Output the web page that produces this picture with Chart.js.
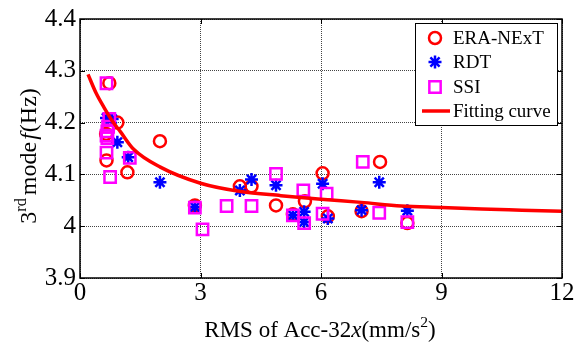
<!DOCTYPE html>
<html>
<head>
<meta charset="utf-8">
<script src="https://cdn.jsdelivr.net/npm/chart.js@4/dist/chart.umd.min.js"></script>
<style>
  html, body { margin: 0; padding: 0; background: #fff; }
  canvas { display: block; }
</style>
</head>
<body>
<canvas id="chart" width="578" height="344"></canvas>
<script>
// Values
const eraX = [0.73, 0.93, 0.65, 0.66, 1.18, 1.99, 2.86, 3.98, 4.27, 4.88, 5.30, 5.60, 6.04, 6.17, 7.01, 7.47, 8.15];
const eraY = [4.276, 4.200, 4.178, 4.127, 4.104, 4.164, 4.040, 4.077, 4.077, 4.040, 4.023, 4.048, 4.102, 4.019, 4.029, 4.124, 4.006];

const rdtX = [0.66, 0.80, 0.93, 1.20, 1.99, 2.86, 3.98, 4.27, 4.88, 5.30, 5.58, 5.58, 6.04, 6.17, 7.01, 7.45, 8.15];
const rdtY = [4.209, 4.207, 4.162, 4.133, 4.085, 4.037, 4.069, 4.090, 4.079, 4.021, 4.028, 4.008, 4.082, 4.015, 4.031, 4.085, 4.030];

const ssiX = [0.66, 0.73, 0.70, 0.68, 0.66, 0.68, 0.66, 0.75, 1.24, 2.86, 3.05, 3.65, 4.27, 4.88, 5.30, 5.56, 5.58, 6.04, 6.14, 7.04, 7.45, 8.15];
const ssiY = [4.276, 4.207, 4.192, 4.183, 4.175, 4.170, 4.142, 4.095, 4.132, 4.036, 3.994, 4.039, 4.039, 4.101, 4.021, 4.069, 4.006, 4.024, 4.063, 4.124, 4.026, 4.008];

const fitX = [0.2, 0.4, 0.6, 0.83, 1.0, 1.33, 2, 3, 4, 5, 6, 7, 8, 9, 10, 11, 12];
const fitY = [4.293, 4.257, 4.229, 4.200, 4.183, 4.149, 4.114, 4.083, 4.067, 4.059, 4.052, 4.046, 4.039, 4.036, 4.033, 4.031, 4.029];

const xTicks = [0, 3, 6, 9, 12];
const xTickLabels = ['0', '3', '6', '9', '12'];
const yTicks = [3.9, 4.0, 4.1, 4.2, 4.3, 4.4];
const yTickLabels = ['3.9', '4', '4.1', '4.2', '4.3', '4.4'];

const SERIF = 'Liberation Serif';
const RED = '#ff0000', BLUE = '#0000ff', MAGENTA = '#ff00ff';

Chart.defaults.font.family = SERIF;
Chart.defaults.color = '#000';

function toPoints(xs, ys) {
  return xs.map((x, i) => ({ x: x, y: ys[i] }));
}

// draw a run of text pieces (normal / italic / superscript)
function richWidth(ctx, parts, size) {
  let w = 0;
  parts.forEach(p => {
    const s = p.sup ? size * 0.68 : size;
    ctx.font = (p.it ? 'italic ' : '') + s + 'px ' + SERIF;
    w += ctx.measureText(p.t).width + (p.gap || 0);
  });
  return w;
}

function drawRich(ctx, parts, x, y, size) {
  parts.forEach(p => {
    const s = p.sup ? size * 0.68 : size;
    ctx.font = (p.it ? 'italic ' : '') + s + 'px ' + SERIF;
    ctx.fillText(p.t, x, p.sup ? y - size * 0.42 : y);
    x += ctx.measureText(p.t).width + (p.gap || 0);
  });
}

function marker(ctx, style, radius, x, y) {
  const opts = { pointStyle: style, rotation: 0, radius: radius, borderWidth: ctx.lineWidth };
  if (Chart.helpers && Chart.helpers.drawPoint) {
    ctx.fillStyle = 'rgba(0,0,0,0)';
    Chart.helpers.drawPoint(ctx, opts, x, y);
  }
}

const overlay = {
  id: 'overlay',
  afterDraw(chart) {
    const ctx = chart.ctx;
    const a = chart.chartArea;
    const sx = chart.scales.x, sy = chart.scales.y;
    ctx.save();

    // inward tick marks on all four sides
    ctx.strokeStyle = '#000';
    ctx.lineWidth = 1;
    ctx.beginPath();
    xTicks.forEach(v => {
      const px = Math.round(sx.getPixelForValue(v)) + 0.5;
      ctx.moveTo(px, a.bottom); ctx.lineTo(px, a.bottom - 5);
      ctx.moveTo(px, a.top); ctx.lineTo(px, a.top + 5);
    });
    yTicks.forEach(v => {
      const py = Math.round(sy.getPixelForValue(v)) + 0.5;
      ctx.moveTo(a.left, py); ctx.lineTo(a.left + 5, py);
      ctx.moveTo(a.right, py); ctx.lineTo(a.right - 5, py);
    });
    ctx.stroke();

    // frame
    ctx.lineWidth = 1.5;
    ctx.strokeRect(a.left, a.top, a.right - a.left, a.bottom - a.top);

    // x axis title
    ctx.fillStyle = '#000';
    ctx.textAlign = 'left';
    ctx.textBaseline = 'alphabetic';
    const xParts = [{ t: 'RMS of Acc-32' }, { t: 'x', it: true }, { t: '(mm/s' }, { t: '2', sup: true }, { t: ')' }];
    const xw = richWidth(ctx, xParts, 23);
    drawRich(ctx, xParts, 320 - xw / 2, 337, 23);

    // y axis title, rotated
    const yParts = [{ t: '3' }, { t: 'rd', sup: true, gap: 3 }, { t: 'mode', gap: 2 }, { t: 'f', it: true, gap: 1 }, { t: '(Hz)' }];
    const yw = richWidth(ctx, yParts, 24);
    ctx.save();
    ctx.translate(36, 156);
    ctx.rotate(-Math.PI / 2);
    drawRich(ctx, yParts, -yw / 2, 0, 24);
    ctx.restore();

    // legend box
    const lx = 415, ly = 23, lw = 142, lh = 102;
    ctx.fillStyle = '#fff';
    ctx.fillRect(lx, ly, lw, lh);
    ctx.strokeStyle = '#000';
    ctx.lineWidth = 1;
    ctx.strokeRect(lx + 0.5, ly + 0.5, lw, lh);

    const rows = [38, 62, 87, 111];
    const names = chart.data.datasets.map(d => d.label);
    ctx.lineWidth = 2.5;
    ctx.strokeStyle = RED;
    marker(ctx, 'circle', 6, 435, rows[0]);
    ctx.strokeStyle = BLUE;
    marker(ctx, 'star', 6.5, 435, rows[1]);
    ctx.strokeStyle = MAGENTA;
    marker(ctx, 'rect', 8, 435, rows[2]);
    ctx.strokeStyle = RED;
    ctx.lineWidth = 3.5;
    ctx.beginPath();
    ctx.moveTo(422, rows[3]); ctx.lineTo(450, rows[3]);
    ctx.stroke();

    ctx.fillStyle = '#000';
    ctx.font = '19px ' + SERIF;
    ctx.textBaseline = 'middle';
    ctx.textAlign = 'left';
    names.forEach((n, i) => ctx.fillText(n, 453, rows[i] + 1));

    ctx.restore();
  }
};

new Chart(document.getElementById('chart'), {
  type: 'scatter',
  data: {
    datasets: [
      {
        label: 'ERA-NExT',
        data: toPoints(eraX, eraY),
        pointStyle: 'circle',
        pointRadius: 6,
        pointBorderWidth: 2.5,
        borderColor: RED,
        backgroundColor: 'rgba(0,0,0,0)',
        order: 4
      },
      {
        label: 'RDT',
        data: toPoints(rdtX, rdtY),
        pointStyle: 'star',
        pointRadius: 6.5,
        pointBorderWidth: 2.5,
        borderColor: BLUE,
        backgroundColor: 'rgba(0,0,0,0)',
        order: 3
      },
      {
        label: 'SSI',
        data: toPoints(ssiX, ssiY),
        pointStyle: 'rect',
        pointRadius: 8,
        pointBorderWidth: 2.5,
        borderColor: MAGENTA,
        backgroundColor: 'rgba(0,0,0,0)',
        order: 2
      },
      {
        label: 'Fitting curve',
        type: 'line',
        data: toPoints(fitX, fitY),
        borderColor: RED,
        borderWidth: 3.5,
        pointRadius: 0,
        fill: false,
        cubicInterpolationMode: 'monotone',
        order: 1
      }
    ]
  },
  options: {
    responsive: false,
    animation: false,
    layout: { padding: { left: 0, right: 16, top: 18, bottom: 0 } },
    plugins: {
      legend: { display: false },
      tooltip: { enabled: false }
    },
    scales: {
      x: {
        type: 'linear',
        min: 0,
        max: 12,
        afterBuildTicks: scale => { scale.ticks = xTicks.map(v => ({ value: v })); },
        afterFit: scale => { scale.height = 66; },
        ticks: {
          color: '#000',
          padding: 0,
          font: { family: SERIF, size: 25 },
          callback: (v, i) => xTickLabels[i]
        },
        grid: { color: '#444', lineWidth: 1, drawTicks: false },
        border: { display: false, dash: [1, 1] }
      },
      y: {
        type: 'linear',
        min: 3.9,
        max: 4.4,
        afterBuildTicks: scale => { scale.ticks = yTicks.map(v => ({ value: v })); },
        afterFit: scale => { scale.width = 80; },
        ticks: {
          color: '#000',
          padding: 4,
          font: { family: SERIF, size: 25 },
          callback: (v, i) => yTickLabels[i]
        },
        grid: { color: '#444', lineWidth: 1, drawTicks: false },
        border: { display: false, dash: [1, 1] }
      }
    }
  },
  plugins: [overlay]
});
</script>
</body>
</html>
